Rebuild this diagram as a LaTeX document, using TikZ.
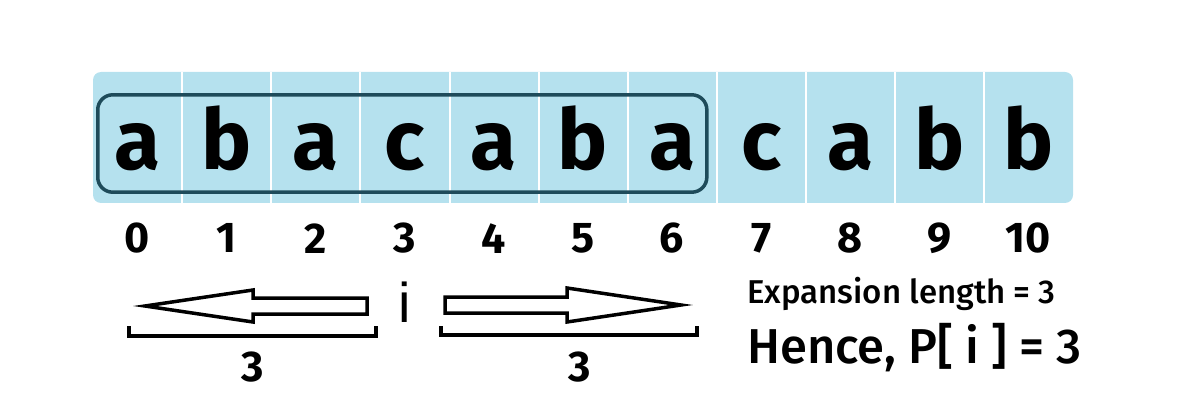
\documentclass[tikz,border=0pt]{standalone}
\usepackage{fontspec}
\setmainfont{Fira Sans}
\newfontfamily\medfont{Fira Sans Medium}
\newfontfamily\arialfont{Liberation Sans}
\usetikzlibrary{positioning}
\definecolor{cellblue}{HTML}{B5E1EE}
\definecolor{framedark}{HTML}{1E4B5A}

\begin{document}
\begin{tikzpicture}[x=1pt, y=-1pt,
        cell/.style={minimum width=89.1pt, minimum height=131pt, inner sep=0pt, text height=65pt, text depth=0pt, font=\fontsize{84}{84}\selectfont\bfseries},
        idx/.style={inner sep=0pt, font=\fontsize{43}{43}\selectfont\bfseries},
        divider/.style={white, line width=2pt},
        frame/.style={draw=framedark, line width=3.5pt, rounded corners=15pt},
        hollow/.style={draw=black, fill=white, line width=3.5pt, line join=miter},
        bracket/.style={draw=black, line width=3.5pt}]
    \useasboundingbox (0,0) rectangle (1187,401);
    \fill[cellblue, rounded corners=8pt] (93,72) rectangle (1073,203);
    \foreach \ch [count=\i from 0] in {a,b,a,c,a,b,a,c,a,b,b}
        \node[cell] (c\i) at (137.5+89.1*\i, 137.5) {\ch};
    \foreach \i in {0,...,9}
        \draw[divider] (c\i.north east) -- (c\i.south east);
    \draw[frame] ([xshift=5pt, yshift=-23pt]c0.north west) rectangle ([xshift=-10pt, yshift=11pt]c6.south east);
    \foreach \i in {0,...,10}
        \node[idx] (n\i) at ([yshift=-35pt]c\i.south) {\i};

    \node[inner sep=0pt, font=\arialfont\fontsize{56}{56}\selectfont] (mid) at (405,302) {i};
    \draw[hollow] (145,306) -- (253,290) -- (253,298) -- (367,298) -- (367,314) -- (253,314) -- (253,322) -- cycle;
    \draw[hollow] (445,297) -- (567,297) -- (567,288) -- (681,305) -- (567,322) -- (567,313) -- (445,313) -- cycle;
    \draw[bracket] (129,326) -- (129,336) -- (376,336) -- (376,326);
    \draw[bracket] (441,326) -- (441,335) -- (697,335) -- (697,326);
    \node[idx] (lenleft) at (253,367) {3};
    \node[idx] (lenright) at (580,367) {3};

    \node[anchor=base west, inner sep=0pt, font=\medfont\fontsize{33}{33}\selectfont] (explen) at (747,303) {Expansion length = 3};
    \node[anchor=base west, inner sep=0pt, font=\medfont\fontsize{49}{49}\selectfont] (result) at (747,363) {Hence, P[ i ] = 3};
\end{tikzpicture}
\end{document}
